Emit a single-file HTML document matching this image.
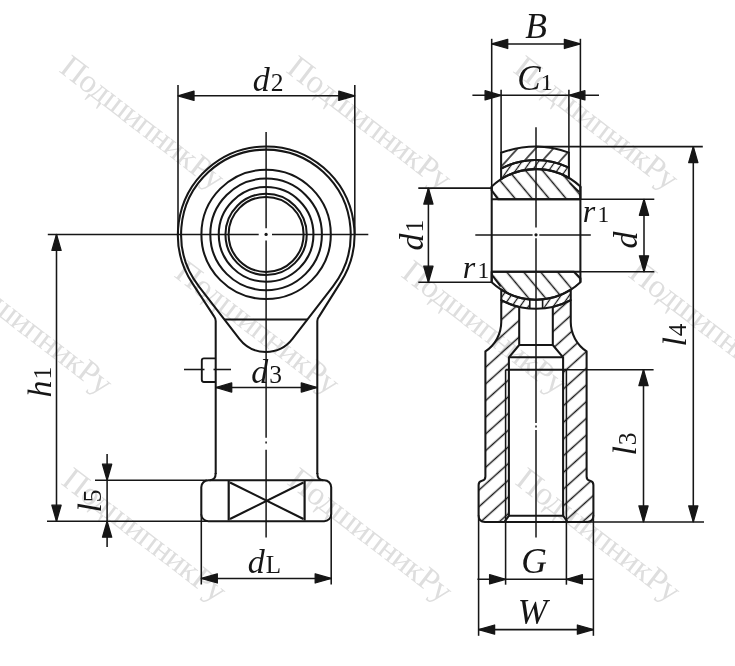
<!DOCTYPE html>
<html><head><meta charset="utf-8"><style>
html,body{margin:0;padding:0;background:#fff;width:735px;height:666px;overflow:hidden}
svg{display:block;will-change:transform}
text{font-family:"Liberation Serif",serif}
</style></head><body>
<svg width="735" height="666" viewBox="0 0 735 666">
<defs><pattern id="hh" patternUnits="userSpaceOnUse" width="12.4" height="12.4" patternTransform="rotate(48) translate(8.85 0)"><line x1="6.2" y1="-1" x2="6.2" y2="13.4" stroke="#161616" stroke-width="1.45"/></pattern><pattern id="hhr" patternUnits="userSpaceOnUse" width="12.4" height="12.4" patternTransform="rotate(48) translate(2.65 0)"><line x1="6.2" y1="-1" x2="6.2" y2="13.4" stroke="#161616" stroke-width="1.45"/></pattern><pattern id="hh2" patternUnits="userSpaceOnUse" width="13.3" height="13.3" patternTransform="rotate(42) translate(11.85 0)"><line x1="6.65" y1="-1" x2="6.65" y2="14.3" stroke="#161616" stroke-width="1.45"/></pattern><pattern id="hb" patternUnits="userSpaceOnUse" width="13.0" height="13.0" patternTransform="rotate(-40) translate(0.5 0)"><line x1="6.5" y1="-1" x2="6.5" y2="14.0" stroke="#161616" stroke-width="1.45"/></pattern><pattern id="hb2" patternUnits="userSpaceOnUse" width="13.0" height="13.0" patternTransform="rotate(-40) translate(11.8 0)"><line x1="6.5" y1="-1" x2="6.5" y2="14.0" stroke="#161616" stroke-width="1.45"/></pattern><pattern id="hl" patternUnits="userSpaceOnUse" width="6.8" height="6.8" patternTransform="rotate(35) translate(0 0)"><line x1="3.4" y1="-1" x2="3.4" y2="7.8" stroke="#161616" stroke-width="1.25"/></pattern></defs>
<rect width="735" height="666" fill="#fff"/>
<g><text x="58" y="71" transform="rotate(37.5 58 71)" font-size="33" letter-spacing="-0.6" fill="#dedede" stroke="none">ПодшипникРу</text>
<text x="285" y="71.5" transform="rotate(37.5 285 71.5)" font-size="33" letter-spacing="-0.6" fill="#dedede" stroke="none">ПодшипникРу</text>
<text x="512" y="71.5" transform="rotate(37.5 512 71.5)" font-size="33" letter-spacing="-0.6" fill="#dedede" stroke="none">ПодшипникРу</text>
<text x="-54" y="276" transform="rotate(37.5 -54 276)" font-size="33" letter-spacing="-0.6" fill="#dedede" stroke="none">ПодшипникРу</text>
<text x="173" y="276" transform="rotate(37.5 173 276)" font-size="33" letter-spacing="-0.6" fill="#dedede" stroke="none">ПодшипникРу</text>
<text x="400" y="276" transform="rotate(37.5 400 276)" font-size="33" letter-spacing="-0.6" fill="#dedede" stroke="none">ПодшипникРу</text>
<text x="627" y="276" transform="rotate(37.5 627 276)" font-size="33" letter-spacing="-0.6" fill="#dedede" stroke="none">ПодшипникРу</text>
<text x="60" y="483.5" transform="rotate(37.5 60 483.5)" font-size="33" letter-spacing="-0.6" fill="#dedede" stroke="none">ПодшипникРу</text>
<text x="286" y="483.5" transform="rotate(37.5 286 483.5)" font-size="33" letter-spacing="-0.6" fill="#dedede" stroke="none">ПодшипникРу</text>
<text x="514" y="483.5" transform="rotate(37.5 514 483.5)" font-size="33" letter-spacing="-0.6" fill="#dedede" stroke="none">ПодшипникРу</text></g>
<g stroke="#161616" fill="none" stroke-linecap="butt" stroke-linejoin="round">
<circle cx="266.1" cy="234.4" r="64.7" stroke-width="2.05" fill="none"/>
<circle cx="266.1" cy="234.4" r="55.8" stroke-width="2.05" fill="none"/>
<circle cx="266.1" cy="234.4" r="47.35" stroke-width="2.05" fill="none"/>
<circle cx="266.1" cy="234.4" r="40.65" stroke-width="2.05" fill="none"/>
<circle cx="266.1" cy="234.4" r="37.5" stroke-width="2.05" fill="none"/>
<path d="M 215.7,474 L 215.7,321 Q 215.7,318.4 214.2,316.6 L 192.31,283.15 A 88.3 88.3 0 1 1 340.88,281.91 L 319.0,316.6 Q 317.3,318.4 317.3,321 L 317.3,474" stroke-width="2.05" fill="none"/>
<path d="M 239.36,338.93 L 199.01,286.54 A 84.8 84.8 0 1 1 332.79,286.54 L 292.44,338.93 A 33.5 33.5 0 0 1 239.36,338.93" stroke-width="2.05" fill="none"/>
<line x1="224.39" y1="319.50" x2="307.41" y2="319.50" stroke-width="2.05"/>
<path d="M 215.7,473 Q 215.7,480.2 209.7,480.2" stroke-width="2.05" fill="none"/>
<path d="M 317.3,473 Q 317.3,480.2 323.3,480.2" stroke-width="2.05" fill="none"/>
<rect x="201.3" y="480.2" width="129.9" height="41" rx="7" ry="7" stroke-width="2.05" fill="none"/>
<line x1="228.70" y1="481.00" x2="228.70" y2="520.50" stroke-width="2.2"/>
<line x1="304.60" y1="481.00" x2="304.60" y2="520.50" stroke-width="2.2"/>
<line x1="230.00" y1="482.50" x2="303.50" y2="519.00" stroke-width="2.1"/>
<line x1="303.50" y1="482.50" x2="230.00" y2="519.00" stroke-width="2.1"/>
<path d="M 215.4,358.4 L 204,358.4 Q 201.8,358.4 201.8,360.6 L 201.8,379.8 Q 201.8,382 204,382 L 215.4,382" stroke-width="1.9" fill="none"/>
<line x1="184.00" y1="369.50" x2="204.50" y2="369.50" stroke-width="1.55"/>
<line x1="213.50" y1="369.50" x2="231.00" y2="369.50" stroke-width="1.55"/>
<line x1="47.80" y1="234.40" x2="258.70" y2="234.40" stroke-width="1.5"/>
<line x1="272.00" y1="234.40" x2="368.30" y2="234.40" stroke-width="1.5"/>
<line x1="266.10" y1="132.00" x2="266.10" y2="228.20" stroke-width="1.5"/>
<line x1="266.10" y1="240.60" x2="266.10" y2="437.70" stroke-width="1.5"/>
<circle cx="266.1" cy="234.4" r="1.6" fill="#161616" stroke="none"/>
<line x1="266.10" y1="441.60" x2="266.10" y2="443.60" stroke-width="1.5"/>
<line x1="266.10" y1="449.70" x2="266.10" y2="537.50" stroke-width="1.5"/>
<line x1="178.00" y1="84.90" x2="178.00" y2="234.40" stroke-width="1.55"/>
<line x1="354.80" y1="84.90" x2="354.80" y2="234.40" stroke-width="1.55"/>
<line x1="178.00" y1="95.80" x2="354.80" y2="95.80" stroke-width="1.55"/>
<polygon points="178.00,95.80 194.00,91.20 194.00,100.40" stroke="#161616" stroke-width="1.3" stroke-linejoin="round" fill="#161616"/>
<polygon points="354.80,95.80 338.80,91.20 338.80,100.40" stroke="#161616" stroke-width="1.3" stroke-linejoin="round" fill="#161616"/>
<text x="268" y="91" text-anchor="middle" font-size="34" stroke="none" fill="#161616"><tspan font-style="italic">d</tspan><tspan font-size="25.5" dx="1">2</tspan></text>
<line x1="215.70" y1="387.50" x2="317.30" y2="387.50" stroke-width="1.55"/>
<polygon points="215.70,387.50 231.70,382.90 231.70,392.10" stroke="#161616" stroke-width="1.3" stroke-linejoin="round" fill="#161616"/>
<polygon points="317.30,387.50 301.30,382.90 301.30,392.10" stroke="#161616" stroke-width="1.3" stroke-linejoin="round" fill="#161616"/>
<text x="266.5" y="382.8" text-anchor="middle" font-size="34" stroke="none" fill="#161616"><tspan font-style="italic">d</tspan><tspan font-size="25.5" dx="1">3</tspan></text>
<line x1="201.30" y1="514.00" x2="201.30" y2="584.50" stroke-width="1.55"/>
<line x1="331.20" y1="514.00" x2="331.20" y2="584.50" stroke-width="1.55"/>
<line x1="201.30" y1="578.40" x2="331.20" y2="578.40" stroke-width="1.55"/>
<polygon points="201.30,578.40 217.30,573.80 217.30,583.00" stroke="#161616" stroke-width="1.3" stroke-linejoin="round" fill="#161616"/>
<polygon points="331.20,578.40 315.20,573.80 315.20,583.00" stroke="#161616" stroke-width="1.3" stroke-linejoin="round" fill="#161616"/>
<text x="264.5" y="572.6" text-anchor="middle" font-size="34" stroke="none" fill="#161616"><tspan font-style="italic">d</tspan><tspan font-size="25" dx="1">L</tspan></text>
<line x1="56.50" y1="234.40" x2="56.50" y2="521.20" stroke-width="1.55"/>
<polygon points="56.50,234.40 51.90,250.40 61.10,250.40" stroke="#161616" stroke-width="1.3" stroke-linejoin="round" fill="#161616"/>
<polygon points="56.50,521.20 51.90,505.20 61.10,505.20" stroke="#161616" stroke-width="1.3" stroke-linejoin="round" fill="#161616"/>
<line x1="47.00" y1="521.20" x2="207.00" y2="521.20" stroke-width="1.55"/>
<line x1="95.00" y1="480.20" x2="207.00" y2="480.20" stroke-width="1.55"/>
<text x="51" y="382" text-anchor="middle" font-size="34" transform="rotate(-90 51 382)" stroke="none" fill="#161616"><tspan font-style="italic">h</tspan><tspan font-size="25.5" dx="1">1</tspan></text>
<line x1="107.10" y1="454.00" x2="107.10" y2="547.00" stroke-width="1.55"/>
<polygon points="107.10,480.20 102.50,464.20 111.70,464.20" stroke="#161616" stroke-width="1.3" stroke-linejoin="round" fill="#161616"/>
<polygon points="107.10,521.20 102.50,537.20 111.70,537.20" stroke="#161616" stroke-width="1.3" stroke-linejoin="round" fill="#161616"/>
<text x="101" y="501" text-anchor="middle" font-size="34" transform="rotate(-90 101 501)" stroke="none" fill="#161616"><tspan font-style="italic">l</tspan><tspan font-size="25.5" dx="1">5</tspan></text>
<path d="M 501.1,152.8 Q 536.0,140.3 568.9,152.6 L 568.9,167.67 A 74.4 74.4 0 0 0 501.1,168.69 Z" fill="url(#hh2)" stroke="none"/>
<path d="M 501.1,152.8 Q 536.0,140.3 568.9,152.6 L 568.9,167.67 A 74.4 74.4 0 0 0 501.1,168.69 Z" stroke-width="2.05" fill="none"/>
<path d="M 501.1,168.69 A 74.4 74.4 0 0 1 568.9,167.67 L 568.9,177.99 A 65.3 65.3 0 0 0 501.1,179.21 Z" fill="url(#hl)" stroke="none"/>
<path d="M 501.1,168.69 A 74.4 74.4 0 0 1 568.9,167.67 L 568.9,177.99 A 65.3 65.3 0 0 0 501.1,179.21 Z" stroke-width="2.05" fill="none"/>
<path d="M 491.7,186.43 A 65.3 65.3 0 0 1 580.4,186.52 L 580.4,199.3 L 498.2,199.3 L 491.7,190.5 Z" fill="url(#hb)" stroke="none"/>
<path d="M 491.7,186.43 A 65.3 65.3 0 0 1 580.4,186.52 L 580.4,199.3 L 498.2,199.3 L 491.7,190.5 Z" stroke-width="2.05" fill="none"/>
<line x1="569.90" y1="183.00" x2="579.20" y2="191.80" stroke-width="1.7"/>
<path d="M 491.7,282.37 A 65.3 65.3 0 0 0 580.4,282.28 L 580.4,278.2 L 574,271.8 L 491.7,271.8 Z" fill="url(#hb2)" stroke="none"/>
<path d="M 491.7,282.37 A 65.3 65.3 0 0 0 580.4,282.28 L 580.4,278.2 L 574,271.8 L 491.7,271.8 Z" stroke-width="2.05" fill="none"/>
<line x1="492.80" y1="276.10" x2="500.60" y2="286.60" stroke-width="1.7"/>
<path d="M 501.25,289.69 A 65.3 65.3 0 0 0 529.8,299.40 L 529.8,308.54 A 74.4 74.4 0 0 1 501.25,300.19 Z" fill="url(#hl)" stroke="none"/>
<path d="M 542.6,299.37 A 65.3 65.3 0 0 0 570.75,289.69 L 570.75,300.19 A 74.4 74.4 0 0 1 542.6,308.51 Z" fill="url(#hl)" stroke="none"/>
<path d="M 501.25,289.69 A 65.3 65.3 0 0 0 570.75,289.69 L 570.75,300.19 A 74.4 74.4 0 0 1 501.25,300.19 Z" stroke-width="2.05" fill="none"/>
<line x1="529.80" y1="299.40" x2="529.80" y2="308.54" stroke-width="1.6"/>
<line x1="542.60" y1="299.37" x2="542.60" y2="308.51" stroke-width="1.6"/>
<path d="M 501.25,300.19 L 501.25,322 A 35.2 35.2 0 0 1 485.40,351.3 L 485.40,476.5 Q 485.40,480 482.00,480.8 Q 478.60,481.6 478.60,485 L 478.60,515.5 Q 478.60,521.9 485.00,521.9 L 504.50,521.9 L 508.90,515.7 L 508.90,357.3 L 519.20,345 L 519.20,306.88 A 74.4 74.4 0 0 1 501.25,300.19 Z" fill="url(#hh)" stroke="none"/>
<path d="M 501.25,300.19 L 501.25,322 A 35.2 35.2 0 0 1 485.40,351.3 L 485.40,476.5 Q 485.40,480 482.00,480.8 Q 478.60,481.6 478.60,485 L 478.60,515.5 Q 478.60,521.9 485.00,521.9 L 504.50,521.9 L 508.90,515.7 L 508.90,357.3 L 519.20,345 L 519.20,306.88 A 74.4 74.4 0 0 1 501.25,300.19 Z" stroke-width="2.05" fill="none"/>
<path d="M 570.75,300.19 L 570.75,322 A 35.2 35.2 0 0 0 586.60,351.3 L 586.60,476.5 Q 586.60,480 590.00,480.8 Q 593.40,481.6 593.40,485 L 593.40,515.5 Q 593.40,521.9 587.00,521.9 L 567.50,521.9 L 563.10,515.7 L 563.10,357.3 L 552.80,345 L 552.80,306.88 A 74.4 74.4 0 0 0 570.75,300.19 Z" fill="url(#hhr)" stroke="none"/>
<path d="M 570.75,300.19 L 570.75,322 A 35.2 35.2 0 0 0 586.60,351.3 L 586.60,476.5 Q 586.60,480 590.00,480.8 Q 593.40,481.6 593.40,485 L 593.40,515.5 Q 593.40,521.9 587.00,521.9 L 567.50,521.9 L 563.10,515.7 L 563.10,357.3 L 552.80,345 L 552.80,306.88 A 74.4 74.4 0 0 0 570.75,300.19 Z" stroke-width="2.05" fill="none"/>
<line x1="519.20" y1="345.00" x2="552.80" y2="345.00" stroke-width="2.05"/>
<line x1="508.90" y1="357.30" x2="563.10" y2="357.30" stroke-width="2.05"/>
<line x1="505.60" y1="369.70" x2="566.40" y2="369.70" stroke-width="2.05"/>
<line x1="505.60" y1="369.70" x2="505.60" y2="521.90" stroke-width="1.55"/>
<line x1="566.40" y1="369.70" x2="566.40" y2="521.90" stroke-width="1.55"/>
<line x1="508.90" y1="515.70" x2="563.10" y2="515.70" stroke-width="2.05"/>
<line x1="504.50" y1="521.90" x2="567.50" y2="521.90" stroke-width="2.05"/>
<line x1="491.70" y1="186.43" x2="491.70" y2="282.37" stroke-width="2.05"/>
<line x1="580.40" y1="186.52" x2="580.40" y2="282.28" stroke-width="2.05"/>
<line x1="491.70" y1="199.30" x2="580.40" y2="199.30" stroke-width="2.05"/>
<line x1="491.70" y1="271.80" x2="580.40" y2="271.80" stroke-width="2.05"/>
<line x1="475.30" y1="235.00" x2="532.60" y2="235.00" stroke-width="1.5"/>
<line x1="539.30" y1="235.00" x2="590.80" y2="235.00" stroke-width="1.5"/>
<line x1="536.00" y1="127.30" x2="536.00" y2="227.50" stroke-width="1.5"/>
<line x1="536.00" y1="238.30" x2="536.00" y2="423.00" stroke-width="1.5"/>
<circle cx="536.0" cy="234.8" r="1.6" fill="#161616" stroke="none"/>
<line x1="536.00" y1="425.50" x2="536.00" y2="427.50" stroke-width="1.5"/>
<line x1="536.00" y1="430.00" x2="536.00" y2="537.50" stroke-width="1.5"/>
<line x1="491.70" y1="38.80" x2="491.70" y2="188.00" stroke-width="1.55"/>
<line x1="580.40" y1="38.80" x2="580.40" y2="188.00" stroke-width="1.55"/>
<line x1="491.70" y1="43.90" x2="580.40" y2="43.90" stroke-width="1.55"/>
<polygon points="491.70,43.90 507.70,39.30 507.70,48.50" stroke="#161616" stroke-width="1.3" stroke-linejoin="round" fill="#161616"/>
<polygon points="580.40,43.90 564.40,39.30 564.40,48.50" stroke="#161616" stroke-width="1.3" stroke-linejoin="round" fill="#161616"/>
<text x="536" y="38.2" text-anchor="middle" font-size="35.5" stroke="none" fill="#161616"><tspan font-style="italic">B</tspan></text>
<line x1="501.10" y1="89.80" x2="501.10" y2="153.00" stroke-width="1.55"/>
<line x1="568.90" y1="89.80" x2="568.90" y2="153.00" stroke-width="1.55"/>
<line x1="472.40" y1="95.30" x2="599.00" y2="95.30" stroke-width="1.55"/>
<polygon points="501.10,95.30 485.10,90.70 485.10,99.90" stroke="#161616" stroke-width="1.3" stroke-linejoin="round" fill="#161616"/>
<polygon points="568.90,95.30 584.90,90.70 584.90,99.90" stroke="#161616" stroke-width="1.3" stroke-linejoin="round" fill="#161616"/>
<text x="535" y="90" text-anchor="middle" font-size="35" stroke="none" fill="#161616"><tspan font-style="italic">C</tspan><tspan font-size="24" dx="0">1</tspan></text>
<line x1="418.30" y1="188.10" x2="491.70" y2="188.10" stroke-width="1.55"/>
<line x1="418.30" y1="282.20" x2="491.70" y2="282.20" stroke-width="1.55"/>
<line x1="428.40" y1="188.10" x2="428.40" y2="282.20" stroke-width="1.55"/>
<polygon points="428.40,188.10 423.80,204.10 433.00,204.10" stroke="#161616" stroke-width="1.3" stroke-linejoin="round" fill="#161616"/>
<polygon points="428.40,282.20 423.80,266.20 433.00,266.20" stroke="#161616" stroke-width="1.3" stroke-linejoin="round" fill="#161616"/>
<text x="423" y="235" text-anchor="middle" font-size="34" transform="rotate(-90 423 235)" stroke="none" fill="#161616"><tspan font-style="italic">d</tspan><tspan font-size="25.5" dx="1">1</tspan></text>
<line x1="580.40" y1="199.30" x2="654.30" y2="199.30" stroke-width="1.55"/>
<line x1="580.40" y1="271.80" x2="654.30" y2="271.80" stroke-width="1.55"/>
<line x1="644.00" y1="199.30" x2="644.00" y2="271.80" stroke-width="1.55"/>
<polygon points="644.00,199.30 639.40,215.30 648.60,215.30" stroke="#161616" stroke-width="1.3" stroke-linejoin="round" fill="#161616"/>
<polygon points="644.00,271.80 639.40,255.80 648.60,255.80" stroke="#161616" stroke-width="1.3" stroke-linejoin="round" fill="#161616"/>
<text x="637" y="240" text-anchor="middle" font-size="34" transform="rotate(-90 637 240)" stroke="none" fill="#161616"><tspan font-style="italic">d</tspan></text>
<text x="596" y="221.5" text-anchor="middle" font-size="32" stroke="none" fill="#161616"><tspan font-style="italic">r</tspan><tspan font-size="23.5" dx="2.5">1</tspan></text>
<text x="476" y="277.5" text-anchor="middle" font-size="32" stroke="none" fill="#161616"><tspan font-style="italic">r</tspan><tspan font-size="23.5" dx="2.5">1</tspan></text>
<line x1="536.00" y1="146.60" x2="702.80" y2="146.60" stroke-width="1.55"/>
<line x1="580.00" y1="521.90" x2="704.00" y2="521.90" stroke-width="1.55"/>
<line x1="693.30" y1="146.60" x2="693.30" y2="521.90" stroke-width="1.55"/>
<polygon points="693.30,146.60 688.70,162.60 697.90,162.60" stroke="#161616" stroke-width="1.3" stroke-linejoin="round" fill="#161616"/>
<polygon points="693.30,521.90 688.70,505.90 697.90,505.90" stroke="#161616" stroke-width="1.3" stroke-linejoin="round" fill="#161616"/>
<text x="686" y="335" text-anchor="middle" font-size="34" transform="rotate(-90 686 335)" stroke="none" fill="#161616"><tspan font-style="italic">l</tspan><tspan font-size="25.5" dx="1">4</tspan></text>
<line x1="565.70" y1="369.70" x2="653.60" y2="369.70" stroke-width="1.55"/>
<line x1="643.50" y1="369.70" x2="643.50" y2="521.90" stroke-width="1.55"/>
<polygon points="643.50,369.70 638.90,385.70 648.10,385.70" stroke="#161616" stroke-width="1.3" stroke-linejoin="round" fill="#161616"/>
<polygon points="643.50,521.90 638.90,505.90 648.10,505.90" stroke="#161616" stroke-width="1.3" stroke-linejoin="round" fill="#161616"/>
<text x="636" y="444" text-anchor="middle" font-size="34" transform="rotate(-90 636 444)" stroke="none" fill="#161616"><tspan font-style="italic">l</tspan><tspan font-size="25.5" dx="1">3</tspan></text>
<line x1="505.60" y1="521.90" x2="505.60" y2="584.70" stroke-width="1.55"/>
<line x1="566.40" y1="521.90" x2="566.40" y2="584.70" stroke-width="1.55"/>
<line x1="477.40" y1="579.30" x2="593.80" y2="579.30" stroke-width="1.55"/>
<polygon points="505.60,579.30 489.60,574.70 489.60,583.90" stroke="#161616" stroke-width="1.3" stroke-linejoin="round" fill="#161616"/>
<polygon points="566.40,579.30 582.40,574.70 582.40,583.90" stroke="#161616" stroke-width="1.3" stroke-linejoin="round" fill="#161616"/>
<text x="534" y="572.7" text-anchor="middle" font-size="35.5" stroke="none" fill="#161616"><tspan font-style="italic">G</tspan></text>
<line x1="478.60" y1="515.00" x2="478.60" y2="635.80" stroke-width="1.55"/>
<line x1="593.40" y1="515.00" x2="593.40" y2="635.80" stroke-width="1.55"/>
<line x1="478.60" y1="629.60" x2="593.40" y2="629.60" stroke-width="1.55"/>
<polygon points="478.60,629.60 494.60,625.00 494.60,634.20" stroke="#161616" stroke-width="1.3" stroke-linejoin="round" fill="#161616"/>
<polygon points="593.40,629.60 577.40,625.00 577.40,634.20" stroke="#161616" stroke-width="1.3" stroke-linejoin="round" fill="#161616"/>
<text x="532.5" y="623.6" text-anchor="middle" font-size="35.5" stroke="none" fill="#161616"><tspan font-style="italic">W</tspan></text>
</g>
</svg>
</body></html>
